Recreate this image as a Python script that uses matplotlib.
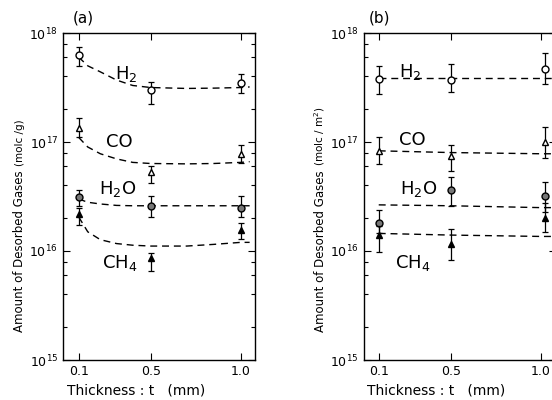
import numpy as np
import matplotlib
matplotlib.use("Agg")
import matplotlib.pyplot as plt
from matplotlib.ticker import FixedLocator, NullFormatter

plt.rcParams['font.family'] = ['DejaVu Sans']
plt.rcParams['mathtext.fontset'] = 'dejavusans'

thick = [0.1, 0.5, 1.0]
xticklabels = ['0.1', '0.5', '1.0']

# ---- panel (a): per gram ----
a_h2 = [6.3e17, 3.0e17, 3.5e17]
a_h2_lo = [5.0e17, 2.25e17, 2.8e17]
a_h2_hi = [7.4e17, 3.55e17, 4.2e17]
a_co = [1.35e17, 5.3e16, 7.7e16]
a_co_lo = [1.12e17, 4.2e16, 6.4e16]
a_co_hi = [1.65e17, 6.0e16, 9.3e16]
a_h2o = [3.1e16, 2.6e16, 2.5e16]
a_h2o_lo = [2.6e16, 2.05e16, 2.05e16]
a_h2o_hi = [3.6e16, 3.2e16, 3.2e16]
a_ch4 = [2.2e16, 8.7e15, 1.55e16]
a_ch4_lo = [1.75e16, 6.6e15, 1.3e16]
a_ch4_hi = [2.5e16, 9.6e15, 1.8e16]

# dashed guide curves
a_fit_x = [0.1, 0.15, 0.22, 0.31, 0.4, 0.5, 0.7, 0.85, 1.0, 1.05]
a_h2_fit = [6.0e17, 5.0e17, 4.4e17, 3.7e17, 3.3e17, 3.16e17, 3.1e17, 3.12e17, 3.16e17, 3.2e17]
a_co_fit = [1.1e17, 9.0e16, 7.8e16, 7.0e16, 6.5e16, 6.35e16, 6.3e16, 6.35e16, 6.5e16, 6.6e16]
a_h2o_fit = [3.0e16, 2.8e16, 2.7e16, 2.62e16, 2.6e16, 2.6e16, 2.6e16, 2.6e16, 2.6e16, 2.6e16]
a_ch4_fit = [2.05e16, 1.5e16, 1.27e16, 1.17e16, 1.13e16, 1.11e16, 1.11e16, 1.15e16, 1.2e16, 1.2e16]

# ---- panel (b): per unit area ----
b_x = [0.1, 0.5, 1.02]
b_h2 = [3.8e17, 3.7e17, 4.7e17]
b_h2_lo = [2.75e17, 2.9e17, 3.4e17]
b_h2_hi = [5.0e17, 5.2e17, 6.5e17]
b_co = [8.3e16, 7.4e16, 1.0e17]
b_co_lo = [6.3e16, 5.4e16, 7.2e16]
b_co_hi = [1.12e17, 9.3e16, 1.38e17]
b_h2o = [1.8e16, 3.6e16, 3.2e16]
b_h2o_lo = [1.45e16, 2.6e16, 2.3e16]
b_h2o_hi = [2.4e16, 4.8e16, 4.3e16]
b_ch4 = [1.4e16, 1.17e16, 2.0e16]
b_ch4_lo = [9.8e15, 8.3e15, 1.5e16]
b_ch4_hi = [1.7e16, 1.6e16, 2.75e16]

b_fit_x = [0.1, 0.5, 1.0, 1.1]
b_h2_fit = [3.9e17, 3.9e17, 3.9e17, 3.9e17]
b_co_fit = [8.3e16, 8.0e16, 7.8e16, 7.8e16]
b_h2o_fit = [2.65e16, 2.6e16, 2.5e16, 2.5e16]
b_ch4_fit = [1.45e16, 1.4e16, 1.36e16, 1.36e16]


def errs(v, lo, hi):
    v, lo, hi = np.array(v), np.array(lo), np.array(hi)
    return [v - lo, hi - v]


def setup(ax):
    ax.set_yscale('log')
    ax.set_ylim(1e15, 1e18)
    ax.set_xlim(0.012, 1.08)
    ax.set_xticks(thick)
    ax.set_xticklabels(xticklabels, fontsize=9)
    ax.yaxis.set_major_locator(FixedLocator([1e15, 1e16, 1e17, 1e18]))
    ax.set_yticklabels(['10$^{15}$', '10$^{16}$', '10$^{17}$', '10$^{18}$'], fontsize=9)
    minors = [m * 10.0 ** e for e in (15, 16, 17) for m in (2, 4, 6, 8)]
    ax.yaxis.set_minor_locator(FixedLocator(minors))
    ax.yaxis.set_minor_formatter(NullFormatter())
    ax.tick_params(which='both', direction='in', top=True, right=True, width=0.8)
    ax.tick_params(which='major', length=5)
    ax.tick_params(which='minor', length=3)
    for s in ax.spines.values():
        s.set_linewidth(1.0)


def plot_set(ax, x, vals, fits, fx):
    styles = [
        dict(marker='o', mfc='white', mec='black', ms=5),
        dict(marker='^', mfc='white', mec='black', ms=5),
        dict(marker='o', mfc='#777777', mec='black', ms=5),
        dict(marker='^', mfc='black', mec='black', ms=5),
    ]
    for (v, lo, hi), f, st in zip(vals, fits, styles):
        ax.plot(fx, f, '--', color='black', lw=1.0, dashes=(5, 3.5))
        ax.errorbar(x, v, yerr=errs(v, lo, hi), fmt='none', ecolor='black',
                    elinewidth=0.9, capsize=2.5, capthick=0.9)
        ax.plot(x, v, linestyle='none', **st)


fig = plt.figure(figsize=(5.52, 4.0), dpi=100)
ax1 = fig.add_axes([0.114, 0.10, 0.348, 0.8175])
ax2 = fig.add_axes([0.659, 0.10, 0.348, 0.8175])
setup(ax1)
setup(ax2)
ax2.set_xlim(0.017, 1.083)

plot_set(ax1, thick,
         [(a_h2, a_h2_lo, a_h2_hi), (a_co, a_co_lo, a_co_hi),
          (a_h2o, a_h2o_lo, a_h2o_hi), (a_ch4, a_ch4_lo, a_ch4_hi)],
         [a_h2_fit, a_co_fit, a_h2o_fit, a_ch4_fit], a_fit_x)
plot_set(ax2, b_x,
         [(b_h2, b_h2_lo, b_h2_hi), (b_co, b_co_lo, b_co_hi),
          (b_h2o, b_h2o_lo, b_h2o_hi), (b_ch4, b_ch4_lo, b_ch4_hi)],
         [b_h2_fit, b_co_fit, b_h2o_fit, b_ch4_fit], b_fit_x)

# species labels
lab = dict(fontsize=13, ha='left', va='center')
ax1.text(0.30, 4.2e17, 'H$_2$', **lab)
ax1.text(0.25, 1.0e17, 'CO', **lab)
ax1.text(0.215, 3.7e16, 'H$_2$O', **lab)
ax1.text(0.23, 7.7e15, 'CH$_4$', **lab)
ax2.text(0.21, 4.4e17, 'H$_2$', **lab)
ax2.text(0.215, 1.05e17, 'CO', **lab)
ax2.text(0.22, 3.7e16, 'H$_2$O', **lab)
ax2.text(0.19, 7.7e15, 'CH$_4$', **lab)

# panel tags
fig.text(83 / 552, 1 - 18 / 400, '(a)', fontsize=11, ha='center', va='center')
fig.text(380 / 552, 1 - 18 / 400, '(b)', fontsize=11, ha='center', va='center')

# y labels: main words, then the unit in smaller type right after them
renderer = fig.canvas.get_renderer()
for xpix, unit in ((20, '(molc /g)'), (320, '(molc / m$^2$)')):
    t = fig.text(xpix / 552, 1 - 332 / 400, 'Amount of Desorbed Gases', rotation=90,
                 fontsize=8.5, ha='center', va='bottom')
    top = t.get_window_extent(renderer).y1
    fig.text(xpix / 552, (top + 4) / 400, unit, rotation=90,
             fontsize=7.5, ha='center', va='bottom')

# x labels
fig.text(67 / 552, 1 - 391 / 400, 'Thickness : t   (mm)', fontsize=10, ha='left', va='center')
fig.text(367 / 552, 1 - 391 / 400, 'Thickness : t   (mm)', fontsize=10, ha='left', va='center')

fig.savefig('out.png', dpi=100)
